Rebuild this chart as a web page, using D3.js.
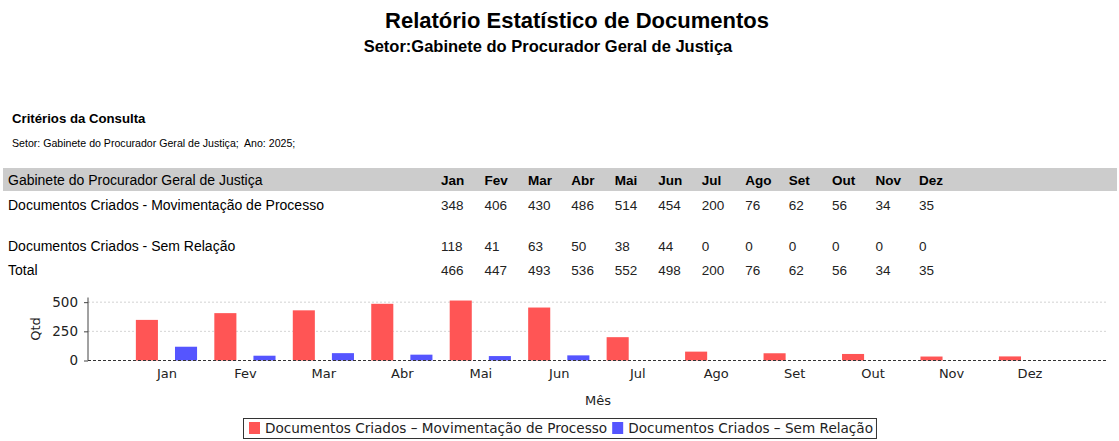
<!DOCTYPE html>
<html>
<head>
<meta charset="utf-8">
<script src="https://cdn.jsdelivr.net/npm/d3@7"></script>
<style>
  body { margin: 0; background: #fff; }
  svg { display: block; }
</style>
</head>
<body>
<div id="chart"></div>
<script>
const months = ['Jan', 'Fev', 'Mar', 'Abr', 'Mai', 'Jun', 'Jul', 'Ago', 'Set', 'Out', 'Nov', 'Dez'];
const movimentacao = [348, 406, 430, 486, 514, 454, 200, 76, 62, 56, 34, 35];
const semRelacao = [118, 41, 63, 50, 38, 44, 0, 0, 0, 0, 0, 0];
const totais = [466, 447, 493, 536, 552, 498, 200, 76, 62, 56, 34, 35];
const yTicks = [0, 250, 500];
const seriesNames = ['Documentos Criados – Movimentação de Processo', 'Documentos Criados – Sem Relação'];
const seriesColors = ['#ff5555', '#5555ff'];
const rowLabels = ['Documentos Criados - Movimentação de Processo', 'Documentos Criados - Sem Relação', 'Total'];

const width = 1119, height = 441;
const svg = d3.select('#chart').append('svg')
  .attr('width', width)
  .attr('height', height);

const sans = 'Liberation Sans, Arial, sans-serif';
const chartFont = 'DejaVu Sans, sans-serif';

// header
svg.append('text')
  .attr('x', 577).attr('y', 28)
  .attr('text-anchor', 'middle')
  .style('font', `bold 22px ${sans}`)
  .text('Relatório Estatístico de Documentos');
svg.append('text')
  .attr('x', 548).attr('y', 52)
  .attr('text-anchor', 'middle')
  .style('font', `bold 16.5px ${sans}`)
  .text('Setor:Gabinete do Procurador Geral de Justiça');

svg.append('text')
  .attr('x', 12).attr('y', 123)
  .style('font', `bold 13.2px ${sans}`)
  .text('Critérios da Consulta');
svg.append('text')
  .attr('x', 12).attr('y', 147)
  .style('font', `10.6px ${sans}`)
  .attr('xml:space', 'preserve')
  .text('Setor: Gabinete do Procurador Geral de Justiça;  Ano: 2025;');

// table
const colX = d3.scalePoint().domain(months).range([441, 919]);
const table = svg.append('g').attr('class', 'table');
table.append('rect')
  .attr('x', 3).attr('y', 168)
  .attr('width', 1114).attr('height', 23)
  .attr('fill', '#cccccc');
table.append('text')
  .attr('x', 8).attr('y', 185)
  .style('font', `14px ${sans}`)
  .text('Gabinete do Procurador Geral de Justiça');
table.selectAll('text.mh')
  .data(months).enter()
  .append('text')
  .attr('class', 'mh')
  .attr('x', d => colX(d)).attr('y', 185)
  .style('font', `bold 13.5px ${sans}`)
  .text(d => d);

const rows = [movimentacao, semRelacao, totais];
const rowY = [210, 251, 275];
rows.forEach((vals, r) => {
  table.append('text')
    .attr('x', 8).attr('y', rowY[r])
    .style('font', `14px ${sans}`)
    .text(rowLabels[r]);
  table.selectAll(`text.v${r}`)
    .data(vals).enter()
    .append('text')
    .attr('class', `v${r}`)
    .attr('x', (d, i) => colX(months[i])).attr('y', rowY[r])
    .style('font', `13.5px ${sans}`)
    .attr('fill', '#222')
    .text(d => d);
});

// chart
const plot = { left: 88, right: 1108, top: 297.5, bottom: 360.5 };
const x = d3.scalePoint().domain(months).range([plot.left, plot.right]).padding(1);
const y = d3.scaleLinear().domain([0, 540]).range([plot.bottom, plot.top]);
const groupW = x.step() * 0.78;
const xs = d3.scaleBand().domain([0, 1]).range([-groupW / 2, groupW / 2]).paddingInner(0.436);

const g = svg.append('g');

g.selectAll('line.grid')
  .data(yTicks.filter(d => d > 0)).enter()
  .append('line')
  .attr('class', 'grid')
  .attr('x1', plot.left).attr('x2', plot.right)
  .attr('y1', d => y(d)).attr('y2', d => y(d))
  .attr('stroke', '#c8c8c8')
  .attr('stroke-width', 0.8)
  .attr('stroke-dasharray', '2,2');

[movimentacao, semRelacao].forEach((vals, s) => {
  g.selectAll(`rect.s${s}`)
    .data(vals).enter()
    .append('rect')
    .attr('class', `s${s}`)
    .attr('x', (d, i) => x(months[i]) + xs(s))
    .attr('y', d => y(d))
    .attr('width', xs.bandwidth())
    .attr('height', d => y(0) - y(d))
    .attr('fill', seriesColors[s]);
});

// zero line
g.append('line')
  .attr('x1', plot.left).attr('x2', plot.right)
  .attr('y1', y(0)).attr('y2', y(0))
  .attr('stroke', '#333')
  .attr('stroke-width', 1)
  .attr('stroke-dasharray', '3,2');

const yAxis = g.append('g')
  .attr('transform', `translate(${plot.left},0)`)
  .call(d3.axisLeft(y).tickValues(yTicks).tickSize(4).tickPadding(6));
yAxis.select('.domain').attr('d', `M0,${plot.top}V${plot.bottom}`).attr('stroke', '#444');
yAxis.selectAll('.tick line').attr('stroke', '#444');
yAxis.selectAll('text').style('font', `13.5px ${chartFont}`).attr('fill', '#222');

const xAxis = g.append('g')
  .attr('transform', `translate(0,${plot.bottom})`)
  .call(d3.axisBottom(x).tickSize(0).tickPadding(8));
xAxis.select('.domain').remove();
xAxis.selectAll('text').style('font', `13px ${chartFont}`).attr('fill', '#222');

g.append('text')
  .attr('transform', `translate(40,${(plot.top + plot.bottom) / 2}) rotate(-90)`)
  .attr('text-anchor', 'middle')
  .style('font', `13px ${chartFont}`)
  .attr('fill', '#222')
  .text('Qtd');
g.append('text')
  .attr('x', (plot.left + plot.right) / 2).attr('y', 405)
  .attr('text-anchor', 'middle')
  .style('font', `13px ${chartFont}`)
  .attr('fill', '#222')
  .text('Mês');

// legend
const legend = svg.append('g');
const legendBox = legend.append('rect')
  .attr('fill', 'none').attr('stroke', '#333').attr('stroke-width', 1);
let lx = 249;
seriesNames.forEach((name, s) => {
  legend.append('rect')
    .attr('x', lx).attr('y', 422)
    .attr('width', 11).attr('height', 12)
    .attr('fill', seriesColors[s]);
  const t = legend.append('text')
    .attr('x', lx + 16).attr('y', 433)
    .style('font', `13.6px ${chartFont}`)
    .attr('fill', '#222')
    .text(name);
  lx += 16 + t.node().getComputedTextLength() + 5;
});
legendBox.attr('x', 243.5).attr('y', 418.5).attr('width', lx - 243 - 2).attr('height', 20);
</script>
</body>
</html>
